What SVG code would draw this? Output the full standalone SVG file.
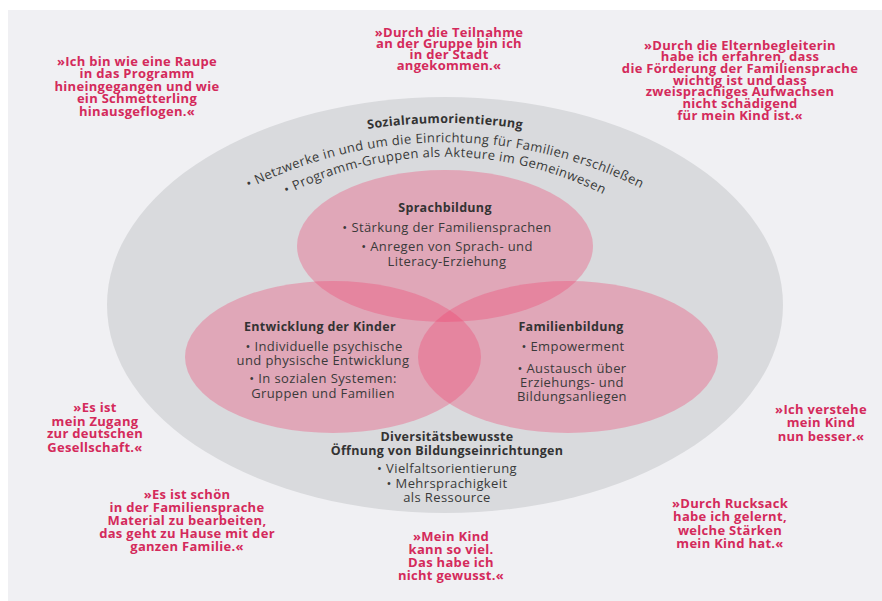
<svg xmlns="http://www.w3.org/2000/svg" width="882" height="601" viewBox="0 0 882 601">
  <style>
    .body { font-family: "Open Sans", "Liberation Sans", sans-serif; font-size: 13px; letter-spacing: 0.4px; fill: #3a3a3a; text-anchor: middle; }
    .head { font-family: "Open Sans", "Liberation Sans", sans-serif; font-size: 12.5px; letter-spacing: 0.3px; font-weight: bold; fill: #333; text-anchor: middle; }
    .quote { font-family: "Open Sans", "Liberation Sans", sans-serif; font-size: 13px; letter-spacing: 0.3px; font-weight: bold; fill: #d42a5b; text-anchor: middle; }
    .field { fill: #f0406e; fill-opacity: 0.33; }
  </style>
  <defs>
    <!-- arcs used as baselines for the curved outer-ring texts -->
    <path id="arcTitle" d="M 195 190 A 500 500 0 0 1 695 190"/>
    <path id="arcLine1" d="M 134 271 A 440 440 0 0 1 756 271"/>
    <path id="arcLine2" d="M 196 260 A 352 352 0 0 1 694 260"/>
  </defs>

  <!-- page background -->
  <rect x="0" y="0" width="882" height="601" fill="#ffffff"/>
  <rect x="8" y="10" width="874" height="591" fill="#f0f0f3"/>

  <!-- outer ring: Sozialraumorientierung / Diversitätsbewusste Öffnung -->
  <g id="outer">
    <ellipse cx="445" cy="305" rx="338" ry="208" fill="#d9dadd"/>
    <text class="head"><textPath href="#arcTitle" startOffset="50%">Sozialraumorientierung</textPath></text>
    <text class="body"><textPath href="#arcLine1" startOffset="50%">• Netzwerke in und um die Einrichtung für Familien erschließen</textPath></text>
    <text class="body"><textPath href="#arcLine2" startOffset="50%">• Programm-Gruppen als Akteure im Gemeinwesen</textPath></text>
    <text class="head" x="447" y="441">Diversitätsbewusste</text>
    <text class="head" x="447" y="455">Öffnung von Bildungseinrichtungen</text>
    <text class="body" x="447" y="473">• Vielfaltsorientierung</text>
    <text class="body" x="447" y="488">• Mehrsprachigkeit</text>
    <text class="body" x="447" y="502">als Ressource</text>
  </g>

  <!-- three overlapping fields -->
  <g id="sprachbildung">
    <ellipse class="field" cx="445" cy="246" rx="148" ry="76"/>
  </g>
  <g id="kinder">
    <ellipse class="field" cx="333" cy="357" rx="148" ry="76"/>
  </g>
  <g id="familienbildung">
    <ellipse class="field" cx="568" cy="357" rx="150" ry="76"/>
  </g>

  <!-- field labels drawn above all fills -->
  <g id="sprachbildung-text">
    <text class="head" x="445" y="212">Sprachbildung</text>
    <text class="body" x="447" y="232">• Stärkung der Familiensprachen</text>
    <text class="body" x="447" y="251">• Anregen von Sprach- und</text>
    <text class="body" x="447" y="266">Literacy-Erziehung</text>
  </g>
  <g id="kinder-text">
    <text class="head" x="320" y="331">Entwicklung der Kinder</text>
    <text class="body" x="324" y="351">• Individuelle psychische</text>
    <text class="body" x="323" y="365">und physische Entwicklung</text>
    <text class="body" x="323" y="383">• In sozialen Systemen:</text>
    <text class="body" x="323" y="398">Gruppen und Familien</text>
  </g>
  <g id="familienbildung-text">
    <text class="head" x="571" y="331">Familienbildung</text>
    <text class="body" x="573" y="351">• Empowerment</text>
    <text class="body" x="572" y="373">• Austausch über</text>
    <text class="body" x="572" y="387">Erziehungs- und</text>
    <text class="body" x="572" y="401">Bildungsanliegen</text>
  </g>

  <!-- participant quotes -->
  <g id="quote-raupe" class="quote">
    <text x="137" y="66">»Ich bin wie eine Raupe</text>
    <text x="137" y="78">in das Programm</text>
    <text x="137" y="91">hineingegangen und wie</text>
    <text x="137" y="103">ein Schmetterling</text>
    <text x="137" y="116">hinausgeflogen.«</text>
  </g>
  <g id="quote-stadt" class="quote">
    <text x="449" y="37">»Durch die Teilnahme</text>
    <text x="449" y="48">an der Gruppe bin ich</text>
    <text x="449" y="59">in der Stadt</text>
    <text x="449" y="70">angekommen.«</text>
  </g>
  <g id="quote-elternbegleiterin" class="quote">
    <text x="740" y="50">»Durch die Elternbegleiterin</text>
    <text x="740" y="61">habe ich erfahren, dass</text>
    <text x="740" y="73">die Förderung der Familiensprache</text>
    <text x="740" y="85">wichtig ist und dass</text>
    <text x="740" y="96">zweisprachiges Aufwachsen</text>
    <text x="740" y="108">nicht schädigend</text>
    <text x="740" y="120">für mein Kind ist.«</text>
  </g>
  <g id="quote-zugang" class="quote">
    <text x="95" y="412">»Es ist</text>
    <text x="95" y="426">mein Zugang</text>
    <text x="95" y="438">zur deutschen</text>
    <text x="95" y="452">Gesellschaft.«</text>
  </g>
  <g id="quote-material" class="quote">
    <text x="187" y="499">»Es ist schön</text>
    <text x="187" y="512">in der Familiensprache</text>
    <text x="187" y="525">Material zu bearbeiten,</text>
    <text x="187" y="538">das geht zu Hause mit der</text>
    <text x="187" y="551">ganzen Familie.«</text>
  </g>
  <g id="quote-kann" class="quote">
    <text x="451" y="541">»Mein Kind</text>
    <text x="451" y="554">kann so viel.</text>
    <text x="451" y="567">Das habe ich</text>
    <text x="451" y="580">nicht gewusst.«</text>
  </g>
  <g id="quote-verstehe" class="quote">
    <text x="821" y="414">»Ich verstehe</text>
    <text x="821" y="427">mein Kind</text>
    <text x="821" y="441">nun besser.«</text>
  </g>
  <g id="quote-rucksack" class="quote">
    <text x="730" y="508">»Durch Rucksack</text>
    <text x="730" y="521">habe ich gelernt,</text>
    <text x="730" y="535">welche Stärken</text>
    <text x="730" y="548">mein Kind hat.«</text>
  </g>
</svg>
